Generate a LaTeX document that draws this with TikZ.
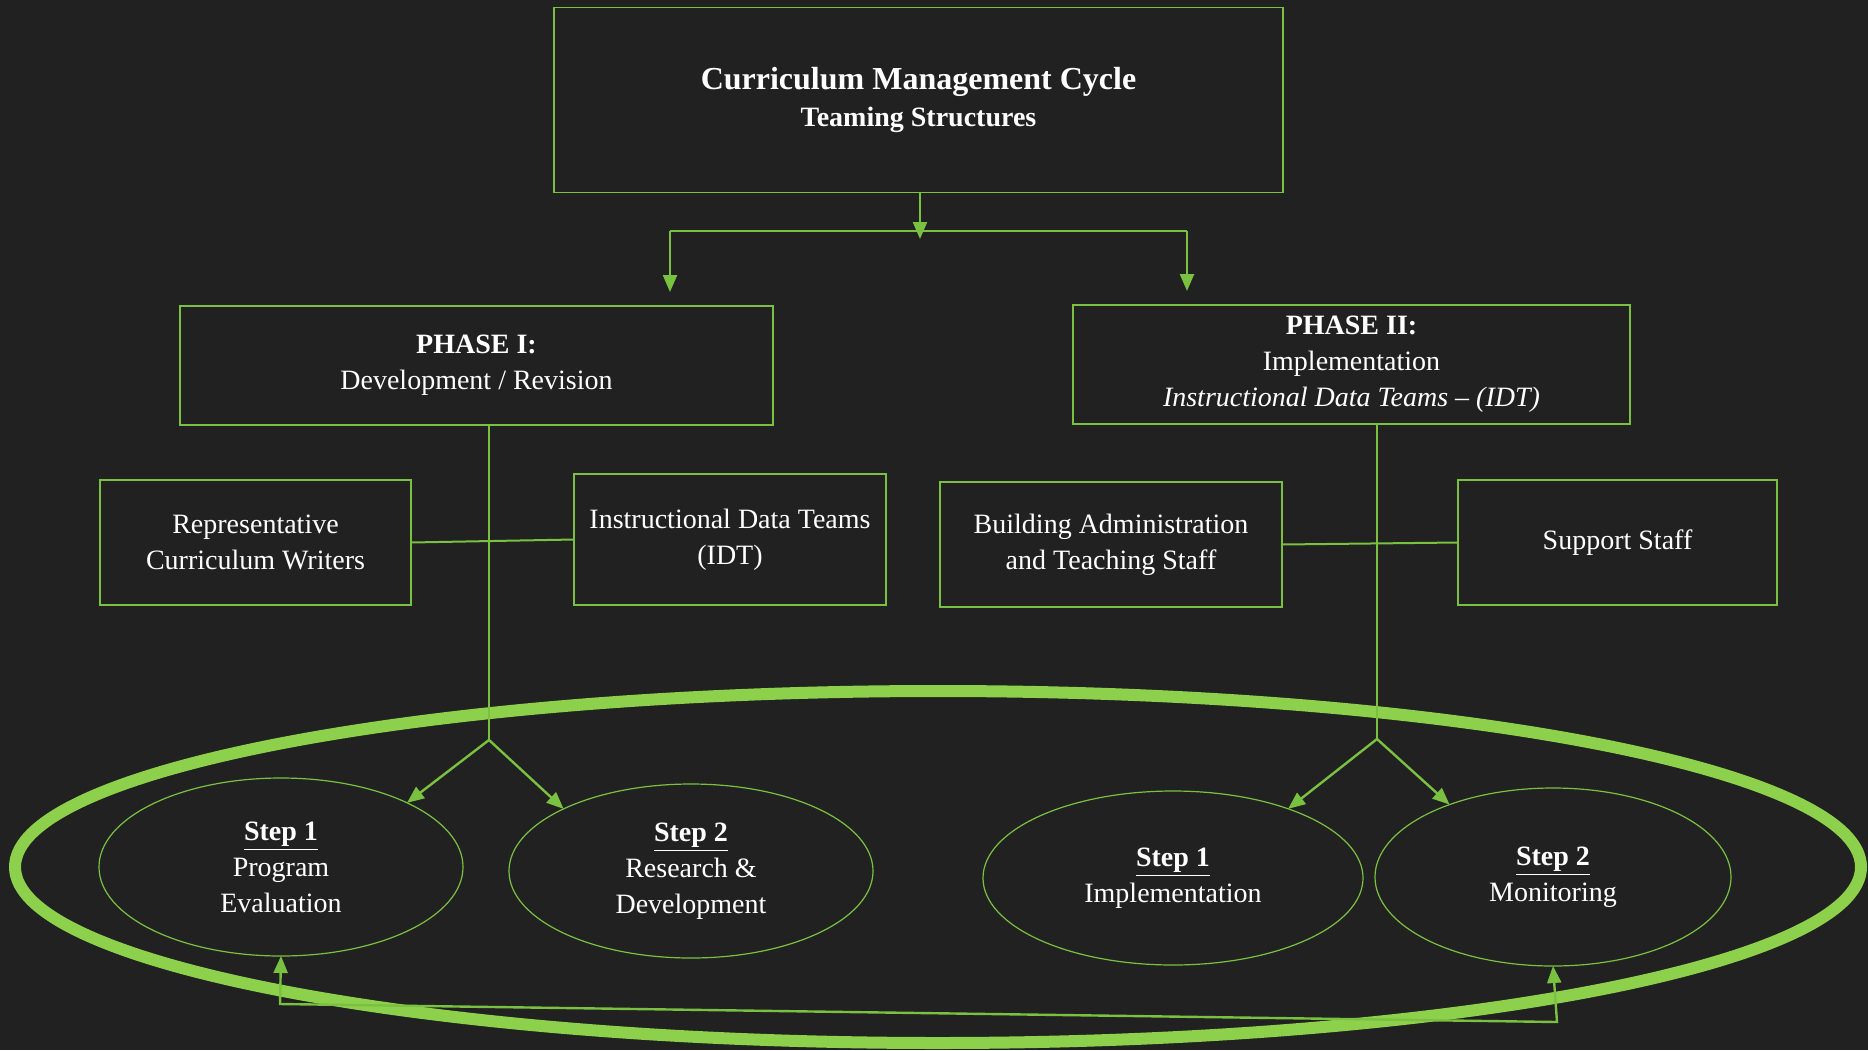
\documentclass[tikz,border=0pt]{standalone}
\usepackage{fontspec}
\setmainfont{Liberation Serif}
\usetikzlibrary{arrows.meta,shapes.geometric}
\definecolor{bg}{RGB}{33,33,33}
\definecolor{edge}{RGB}{122,193,66}
\definecolor{ring}{RGB}{141,208,75}

\begin{document}
\begin{tikzpicture}[x=0.5pt,y=-0.5pt,
    box/.style={draw=edge,line width=0.9pt,text=white,align=center,inner sep=0pt,outer sep=0pt,
        font=\fontsize{14}{18}\selectfont},
    stepnode/.style={ellipse,draw=edge,line width=0.6pt,text=white,align=center,inner sep=0pt,outer sep=0pt,
        font=\fontsize{14}{18}\selectfont},
    link/.style={draw=edge,line width=1pt},
    arr/.style={draw=edge,line width=1.2pt,-{Triangle[length=8.5pt,width=7pt]}}]
    \fill[bg] (0,0) rectangle (1868,1050);

    \node[box,minimum width=364.5pt,minimum height=92.5pt] (cycle) at (918.5,100)
        {{\fontsize{16}{20}\selectfont\textbf{Curriculum Management Cycle}}\\[0.5pt]\textbf{Teaming Structures}};
    \node[box,minimum width=296.5pt,minimum height=59.5pt] (phase1) at (476.5,365.5)
        {\textbf{PHASE I:}\\Development / Revision};
    \node[box,minimum width=278.5pt,minimum height=59.5pt] (phase2) at (1351.5,364.5)
        {\textbf{PHASE II:}\\Implementation\\\textit{Instructional Data Teams -- (IDT)}};

    \node[box,minimum width=155.5pt,minimum height=62.5pt] (writers) at (255.5,542.5)
        {Representative\\Curriculum Writers};
    \node[box,minimum width=156pt,minimum height=65.5pt] (idt) at (730,539.5)
        {Instructional Data Teams\\(IDT)};
    \node[box,minimum width=171pt,minimum height=62.5pt] (admin) at (1111,544.5)
        {Building Administration\\and Teaching Staff};
    \node[box,minimum width=159.5pt,minimum height=62.5pt] (support) at (1617.5,542.5)
        {Support Staff};

    \node[stepnode,minimum width=182pt,minimum height=89pt] (eval) at (281,867)
        {\textbf{\underline{Step 1}}\\Program\\Evaluation};
    \node[stepnode,minimum width=182pt,minimum height=87pt] (research) at (691,871)
        {\textbf{\underline{Step 2}}\\Research \&\\Development};
    \node[stepnode,minimum width=190pt,minimum height=87pt] (implement) at (1173,878)
        {\textbf{\underline{Step 1}}\\Implementation};
    \node[stepnode,minimum width=178pt,minimum height=89pt] (monitor) at (1553,877)
        {\textbf{\underline{Step 2}}\\Monitoring};

    % cycle ring
    \draw[ring,line width=6pt] (938,867) ellipse (923 and 176);

    \coordinate (hub) at (920,233);
    \coordinate (hubL) at (670,231);
    \coordinate (hubR) at (1187,231);
    \coordinate (fork1) at (489,740);
    \coordinate (fork2) at (1377,739);
    \coordinate (backL) at (280,1004);
    \coordinate (backR) at (1557,1022);

    \draw[arr,shorten >=-3pt] (cycle.south -| hub) -- (hub);
    \draw[link] (hubL) -- (hubR);
    \draw[arr,shorten >=7pt] (hubL) -- (hubL |- phase1.north);
    \draw[arr,shorten >=7pt] (hubR) -- (hubR |- phase2.north);

    \draw[link] (phase1.south -| fork1) -- (fork1);
    \draw[link] (writers.east) -- (idt.west);
    \draw[arr] (fork1) -- (eval.27);
    \draw[arr] (fork1) -- (research.154);

    \draw[link] (phase2.south -| fork2) -- (fork2);
    \draw[link] (admin.east) -- (support.west);
    \draw[arr] (fork2) -- (implement.31);
    \draw[arr] (fork2) -- (monitor.145);

    \draw[arr,{Triangle[length=8.5pt,width=7pt]}-{Triangle[length=8.5pt,width=7pt]}]
        (eval.south) -- (backL) -- (backR) -- (monitor.south);
\end{tikzpicture}
\end{document}
